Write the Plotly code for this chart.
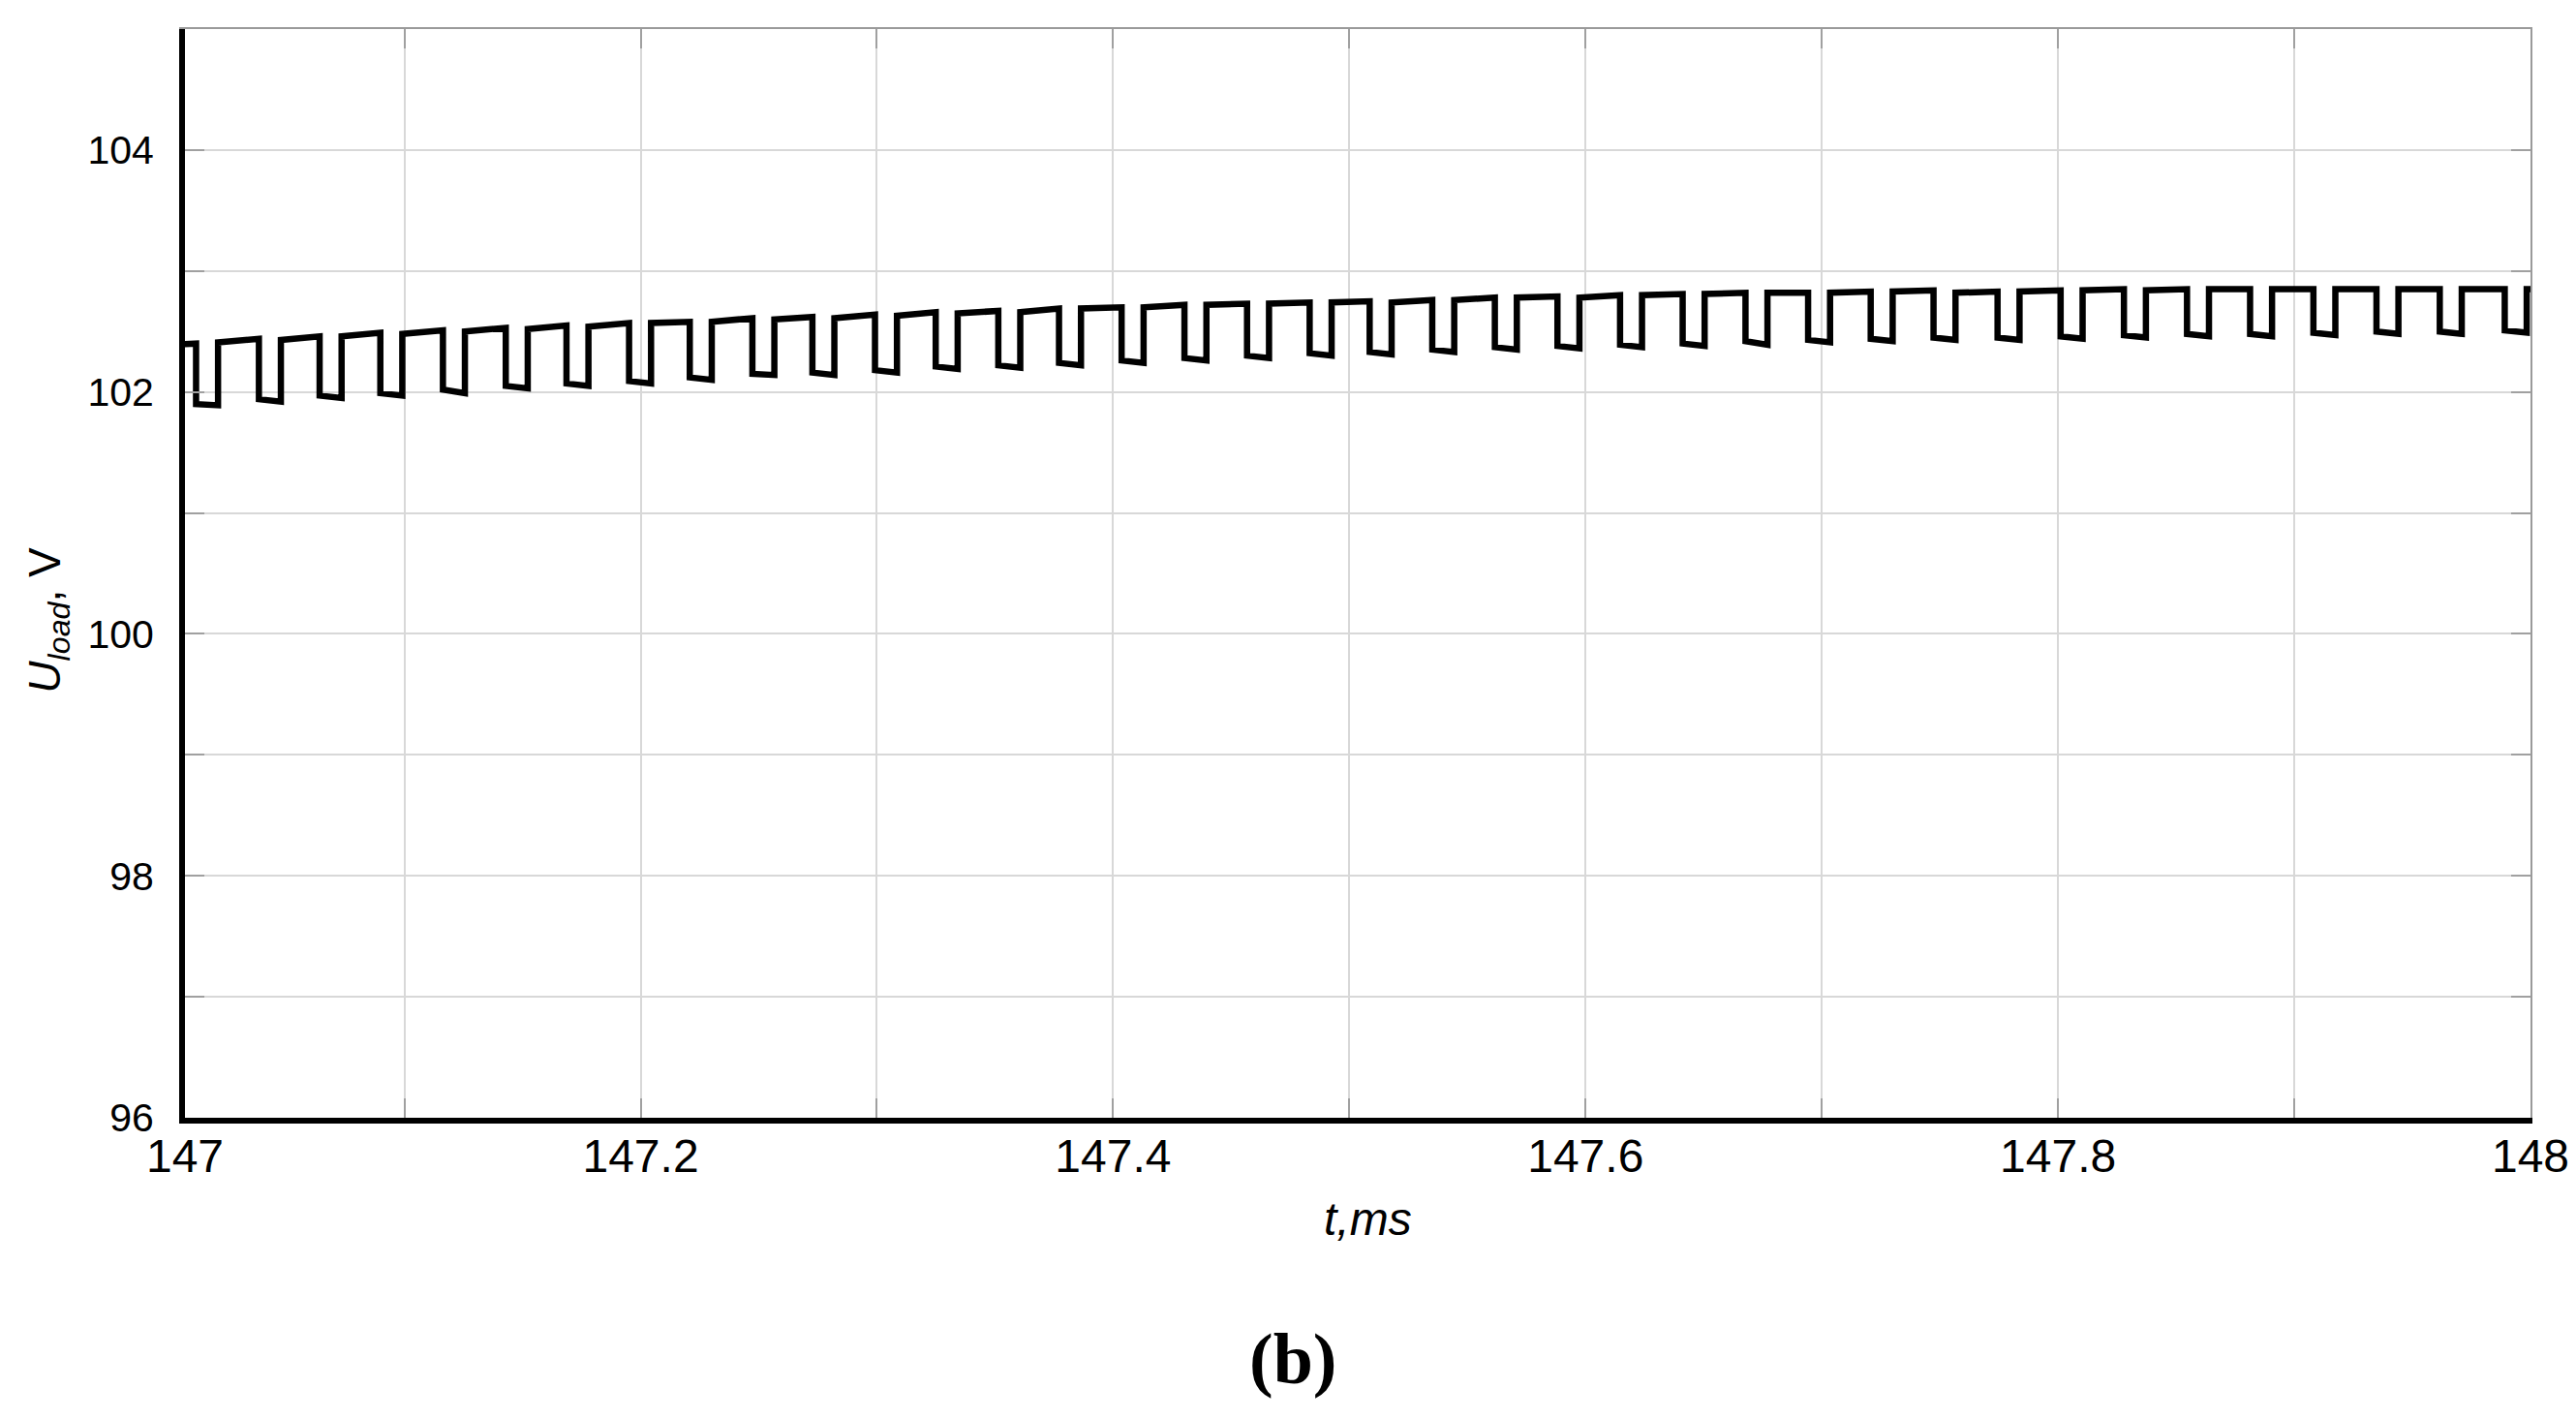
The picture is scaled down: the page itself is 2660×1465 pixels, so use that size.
import plotly.graph_objects as go

# waveform: edge times in microseconds after 147 ms, levels in V
t_fall = [11.8, 38.4, 64.1, 89.8, 116.3, 142.9, 168.6, 195.1, 220.8, 247.3,
          272.7, 299.2, 324.9, 351.4, 377.1, 403.6, 430.2, 456.7, 483.2, 508.6,
          535.1, 561.6, 588.1, 614.6, 641.1, 667.7, 694.2, 720.7, 747.3, 774.4,
          801.1, 827.9, 854.6, 881.3, 908.1, 934.8, 961.6, 989.1]
t_rise = [21.1, 47.7, 73.4, 99.1, 125.6, 152.2, 177.9, 204.4, 230.1, 256.6,
          282.0, 308.5, 334.2, 360.7, 386.4, 412.9, 439.5, 466.0, 492.5, 517.9,
          544.4, 570.9, 597.4, 623.9, 650.4, 677.0, 703.5, 730.0, 756.6, 783.7,
          810.4, 837.2, 863.9, 890.6, 917.4, 944.1, 970.9, 998.4]
high_end = [102.40, 102.44, 102.46, 102.49, 102.51, 102.53, 102.55, 102.57, 102.58, 102.61,
            102.62, 102.64, 102.66, 102.67, 102.69, 102.70, 102.72, 102.73, 102.74, 102.75,
            102.76, 102.78, 102.79, 102.80, 102.81, 102.82, 102.82, 102.83, 102.84, 102.83,
            102.84, 102.85, 102.85, 102.85, 102.85, 102.85, 102.85, 102.85]
low_start = [101.90, 101.94, 101.97, 101.99, 102.02, 102.05, 102.07, 102.09, 102.12, 102.15,
             102.16, 102.18, 102.21, 102.22, 102.24, 102.26, 102.28, 102.30, 102.32, 102.33,
             102.35, 102.37, 102.38, 102.39, 102.40, 102.42, 102.43, 102.44, 102.45, 102.45,
             102.46, 102.47, 102.48, 102.48, 102.49, 102.50, 102.50, 102.51]
low_end = [101.89, 101.92, 101.95, 101.97, 101.99, 102.03, 102.05, 102.07, 102.10, 102.14,
           102.14, 102.16, 102.19, 102.20, 102.22, 102.24, 102.26, 102.28, 102.30, 102.31,
           102.33, 102.35, 102.36, 102.37, 102.38, 102.39, 102.41, 102.42, 102.43, 102.43,
           102.44, 102.45, 102.46, 102.46, 102.47, 102.48, 102.48, 102.49]
high_start = [102.41, 102.43, 102.46, 102.48, 102.50, 102.52, 102.54, 102.57, 102.58, 102.60,
              102.61, 102.63, 102.65, 102.66, 102.69, 102.70, 102.72, 102.73, 102.74, 102.74,
              102.76, 102.78, 102.78, 102.80, 102.81, 102.82, 102.82, 102.83, 102.82, 102.83,
              102.84, 102.84, 102.85, 102.85, 102.85, 102.85, 102.85, 102.85]
u_first = 102.39
u_last = 102.85

t0 = 147.0
t_end = 148.0
x_left = 147.0071  # the plotted window starts just after 147

x_major = [x_left, 147.2, 147.4, 147.6, 147.8, 148.0]
x_text = ["147", "147.2", "147.4", "147.6", "147.8", "148"]
x_minor = [147.1, 147.3, 147.5, 147.7, 147.9]
y_major = [96, 98, 100, 102, 104]
y_minor = [97, 99, 101, 103]

# build the step path
t = [t0]
u = [u_first]
for i in range(len(t_fall)):
    tf = t0 + t_fall[i] / 1000
    tr = t0 + t_rise[i] / 1000
    t += [tf, tf, tr, tr]
    u += [high_end[i], low_start[i], low_end[i], high_start[i]]
t.append(t_end)
u.append(u_last)

fig = go.Figure()
fig.add_trace(go.Scatter(x=t, y=u, mode='lines',
                         line=dict(color='black', width=6.5),
                         hoverinfo='skip', showlegend=False))
# invisible copy so the top/right frame axes get drawn
fig.add_trace(go.Scatter(x=t, y=u, mode='lines', xaxis='x2', yaxis='y2',
                         line=dict(color='rgba(0,0,0,0)', width=0),
                         hoverinfo='skip', showlegend=False))

grid = dict(showgrid=True, gridcolor='#d8d8d8', gridwidth=2,
            ticks='inside', ticklen=20, tickwidth=2, tickcolor='#a0a0a0')

fig.update_layout(
    width=2660, height=1465,
    # page body adds 8px, so margins are shifted by that
    margin=dict(l=183, r=55, t=22, b=319, autoexpand=False),
    plot_bgcolor='white', paper_bgcolor='white',
    xaxis=dict(range=[x_left, t_end], tickvals=x_major, ticktext=x_text,
               minor=dict(tickvals=x_minor, **grid), **grid,
               showline=True, linecolor='black', linewidth=6, zeroline=False,
               tickfont=dict(family='Liberation Sans, Arial', size=48, color='black'),
               ticklabelstandoff=-8),
    yaxis=dict(range=[96, 105], tickvals=y_major,
               minor=dict(tickvals=y_minor, **grid), **grid,
               showline=True, linecolor='black', linewidth=6, zeroline=False,
               tickfont=dict(family='Liberation Sans, Arial', size=41, color='black'),
               ticklabelstandoff=18),
    xaxis2=dict(overlaying='x', side='top', range=[x_left, t_end],
                tickvals=x_major + x_minor,
                showticklabels=False, showgrid=False, zeroline=False,
                ticks='inside', ticklen=20, tickwidth=2, tickcolor='#a0a0a0',
                showline=True, linecolor='#9a9a9a', linewidth=2),
    yaxis2=dict(overlaying='y', side='right', range=[96, 105],
                tickvals=y_major + y_minor,
                showticklabels=False, showgrid=False, zeroline=False,
                ticks='inside', ticklen=20, tickwidth=2, tickcolor='#a0a0a0',
                showline=True, linecolor='#9a9a9a', linewidth=2),
    font=dict(family='Liberation Sans, Arial', color='black'),
)

fig.add_annotation(text='<i>U</i><sub><i>load</i></sub>, V', xref='paper', yref='paper',
                   x=-0.0585, y=0.457, textangle=-90, showarrow=False,
                   xanchor='center', yanchor='middle',
                   font=dict(family='Liberation Sans, Arial', size=46, color='black'))
fig.add_annotation(text='<i>t,ms</i>', xref='paper', yref='paper',
                   x=0.5045, y=-0.0934, showarrow=False,
                   xanchor='center', yanchor='middle',
                   font=dict(family='Liberation Sans, Arial', size=48, color='black'))
fig.add_annotation(text='<b>(b)</b>', xref='paper', yref='paper',
                   x=0.4723, y=-0.2215, showarrow=False,
                   xanchor='center', yanchor='middle',
                   font=dict(family='Liberation Serif, Times New Roman', size=74, color='black'))

fig.write_html("out.html")
